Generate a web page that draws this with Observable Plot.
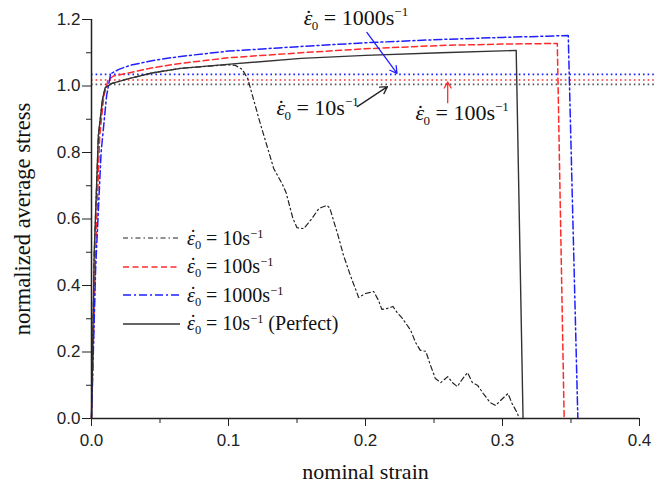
<!DOCTYPE html>
<html><head><meta charset="utf-8">
<script src="https://cdn.jsdelivr.net/npm/d3@7"></script>
<script src="https://cdn.jsdelivr.net/npm/@observablehq/plot@0.6"></script>
<style>
body{margin:0;background:#fff;}
#wrap{position:relative;width:654px;height:490px;overflow:hidden;}
#legend{position:absolute;left:123px;top:224px;font-family:"Liberation Serif","Times New Roman",serif;font-size:20px;color:#111;}
.row{display:flex;align-items:center;height:28.5px;white-space:nowrap;}
.row svg{margin-right:7px;}
.row sub,.row sup{font-size:0.62em;line-height:0;}
.row sub{vertical-align:-0.3em;}
.row sup{vertical-align:0.55em;}
.eps{position:relative;font-style:italic;}
.eps::after{content:"˙";position:absolute;left:0.14em;top:-0.05em;font-style:normal;}
</style></head>
<body><div id="wrap"><div id="chart"></div><div id="legend"></div></div>
<script>
// ---- data ----
const strainPerfect = [0, 0.002, 0.005, 0.008, 0.010, 0.015, 0.028, 0.045, 0.065, 0.099, 0.153, 0.2, 0.255, 0.31, 0.315];
const stressPerfect = [0, 0.5, 0.85, 0.96, 0.995, 1.008, 1.023, 1.04, 1.053, 1.065, 1.083, 1.092, 1.100, 1.107, 0];

const strain10 = [0,0.002,0.005,0.008,0.010,0.015,0.028,0.045,0.065,0.099,0.105,0.110,0.114,0.1175,0.123,0.128,0.133,0.139,0.142,0.147,0.150,0.155,0.161,0.166,0.172,0.174,0.180,0.184,0.189,0.195,0.200,0.206,0.2095,0.212,0.216,0.220,0.223,0.227,0.233,0.2365,0.240,0.244,0.247,0.251,0.255,0.260,0.2635,0.267,0.271,0.2745,0.278,0.282,0.286,0.291,0.295,0.2985,0.304,0.307,0.311,0.312];
const stress10 = [0,0.5,0.85,0.96,0.995,1.008,1.023,1.04,1.053,1.064,1.062,1.05,1.023,0.971,0.890,0.821,0.752,0.707,0.680,0.602,0.574,0.571,0.602,0.632,0.641,0.632,0.550,0.490,0.430,0.364,0.376,0.382,0.355,0.328,0.331,0.337,0.319,0.301,0.265,0.229,0.205,0.202,0.165,0.120,0.108,0.126,0.108,0.096,0.120,0.138,0.108,0.099,0.075,0.048,0.039,0.054,0.075,0.045,0.015,0];

const strain100 = [0, 0.003, 0.006, 0.009, 0.012, 0.016, 0.028, 0.045, 0.065, 0.1, 0.153, 0.2, 0.255, 0.3, 0.34, 0.345];
const stress100 = [0, 0.5, 0.85, 0.97, 1.017, 1.03, 1.04, 1.055, 1.068, 1.085, 1.10, 1.112, 1.122, 1.126, 1.128, 0];

const strain1000 = [0, 0.003, 0.007, 0.011, 0.014, 0.02, 0.028, 0.045, 0.065, 0.1, 0.153, 0.2, 0.255, 0.3, 0.348, 0.355];
const stress1000 = [0, 0.45, 0.8, 0.97, 1.037, 1.05, 1.062, 1.077, 1.089, 1.105, 1.119, 1.13, 1.14, 1.146, 1.152, 0];

const refLevels = [1.005, 1.018, 1.035];          // black, red, blue dotted levels
const xMajor = [0, 0.1, 0.2, 0.3, 0.4];
const xMinor = [0.05, 0.15, 0.25, 0.35];
const yMajor = [0, 0.2, 0.4, 0.6, 0.8, 1.0, 1.2];
const yMinor = [0.1, 0.3, 0.5, 0.7, 0.9, 1.1];

const annotLabels = ["ε̇₀ = 1000s⁻¹", "ε̇₀ = 10s⁻¹", "ε̇₀ = 100s⁻¹"];
const annotX = [0.155, 0.135, 0.2365];
const annotY = [1.206, 0.935, 0.920];
const arrowX1 = [0.201, 0.194, 0.260];
const arrowY1 = [1.161, 0.938, 0.950];
const arrowX2 = [0.223, 0.216, 0.260];
const arrowY2 = [1.038, 0.998, 1.012];

const legendLabels = ["ε̇₀ = 10s⁻¹", "ε̇₀ = 100s⁻¹", "ε̇₀ = 1000s⁻¹", "ε̇₀ = 10s⁻¹ (Perfect)"];

// ---- styles ----
const BLACK = "#222", RED = "#ff2b2b", BLUE = "#2020ff";
const styles = [
  {stroke: BLACK, dash: "5,3,1.5,3", w: 1.2},
  {stroke: RED, dash: "6,3.5", w: 1.5},
  {stroke: BLUE, dash: "8,3,2,3", w: 1.5},
  {stroke: "#333", dash: null, w: 1.4}
];
const refColors = ["#555", RED, BLUE];

const toRows = (xs, ys) => xs.map((x, i) => ({x, y: ys[i]}));
const seriesRows = [toRows(strain10, stress10), toRows(strain100, stress100), toRows(strain1000, stress1000), toRows(strainPerfect, stressPerfect)];
const annots = annotLabels.map((t, i) => ({t, x: annotX[i], y: annotY[i]}));
const arrows = arrowX1.map((x1, i) => ({x1, y1: arrowY1[i], x2: arrowX2[i], y2: arrowY2[i]}));
const arrowColors = [BLUE, BLACK, RED];

const serif = "Liberation Serif";

const marks = [];
refLevels.forEach((lv, i) => marks.push(Plot.ruleY([lv], {y: d => d, x1: () => 0, x2: () => 0.411, stroke: refColors[i], strokeWidth: 1.6, strokeDasharray: "1.6,3"})));
seriesRows.forEach((rows, i) => {
  const s = styles[i];
  marks.push(Plot.line(rows, {x: "x", y: "y", stroke: s.stroke, strokeWidth: s.w, strokeDasharray: s.dash || undefined}));
});
arrows.forEach((a, i) => marks.push(Plot.arrow([a], {x1: "x1", y1: "y1", x2: "x2", y2: "y2", stroke: arrowColors[i], strokeWidth: 1.3, headLength: 9})));
marks.push(Plot.text(annots, {x: "x", y: "y", text: "t", textAnchor: "start", fontFamily: serif, fontSize: 22, fill: "#111"}));
marks.push(Plot.ruleX([0], {x: d => d, y1: () => 0, y2: () => 1.2, stroke: "#222", strokeWidth: 1.5}));
marks.push(Plot.ruleY([0], {y: d => d, x1: () => 0, x2: () => 0.4, stroke: "#222", strokeWidth: 1.5}));
marks.push(Plot.axisX({ticks: xMajor, tickFormat: d3.format(".1f"), tickSize: 8, tickPadding: 7, label: null}));
marks.push(Plot.axisX({ticks: xMinor, tickFormat: () => "", tickSize: 5, label: null}));
marks.push(Plot.axisY({ticks: yMajor, tickFormat: d3.format(".1f"), tickSize: 9, tickPadding: 2, label: null}));
marks.push(Plot.axisY({ticks: yMinor, tickFormat: () => "", tickSize: 5, label: null}));
marks.push(Plot.text(["nominal strain"], {frameAnchor: "bottom", dy: 53, textAnchor: "middle", lineAnchor: "middle", fontFamily: serif, fontSize: 22, fill: "#111"}));
marks.push(Plot.text(["normalized average stress"], {frameAnchor: "left", dx: -69, rotate: -90, textAnchor: "middle", lineAnchor: "middle", fontFamily: serif, fontSize: 22.5, fill: "#111"}));

const chart = Plot.plot({
  width: 654, height: 490,
  marginLeft: 91, marginRight: 15, marginTop: 19, marginBottom: 72,
  x: {domain: [0, 0.4], label: null},
  y: {domain: [0, 1.2], label: null},
  style: {fontFamily: "'Liberation Sans', Arial, sans-serif", fontSize: "17px", color: "#222", background: "#fff", overflow: "visible"},
  marks
});
document.getElementById("chart").appendChild(chart);

// format ε̇₀ labels: italic epsilon with dot above, subscript 0, superscript −1
const NS = "http://www.w3.org/2000/svg";
chart.querySelectorAll("text").forEach(el => {
  const m = el.textContent.match(/^ε̇₀ = (\d+)s⁻¹(.*)$/);
  if (!m) return;
  el.textContent = "";
  const add = (t, attrs) => { const e = document.createElementNS(NS, "tspan"); for (const k in attrs) e.setAttribute(k, attrs[k]); e.textContent = t; el.appendChild(e); };
  add("ε", {"font-style": "italic"});
  add("˙", {dx: -7.5});
  add("0", {"font-size": 13, dy: 5, dx: -0.5});
  add(" = " + m[1] + "s", {dy: -5});
  add("−1", {"font-size": 13, dy: -9});
});

// legend (HTML overlay)
const legend = document.getElementById("legend");
legendLabels.forEach((lab, i) => {
  const s = styles[i];
  const m = lab.match(/^ε̇₀ = (\d+)s⁻¹(.*)$/);
  const row = document.createElement("div");
  row.className = "row";
  row.innerHTML = `<svg width="57" height="10"><line x1="0" y1="5" x2="57" y2="5" stroke="${s.stroke}" stroke-width="${s.w}" ${s.dash ? `stroke-dasharray="${s.dash}"` : ""}/></svg>` +
    `<span><span class="eps">ε</span><sub>0</sub> = ${m[1]}s<sup>−1</sup>${m[2]}</span>`;
  legend.appendChild(row);
});
</script>
</body></html>
